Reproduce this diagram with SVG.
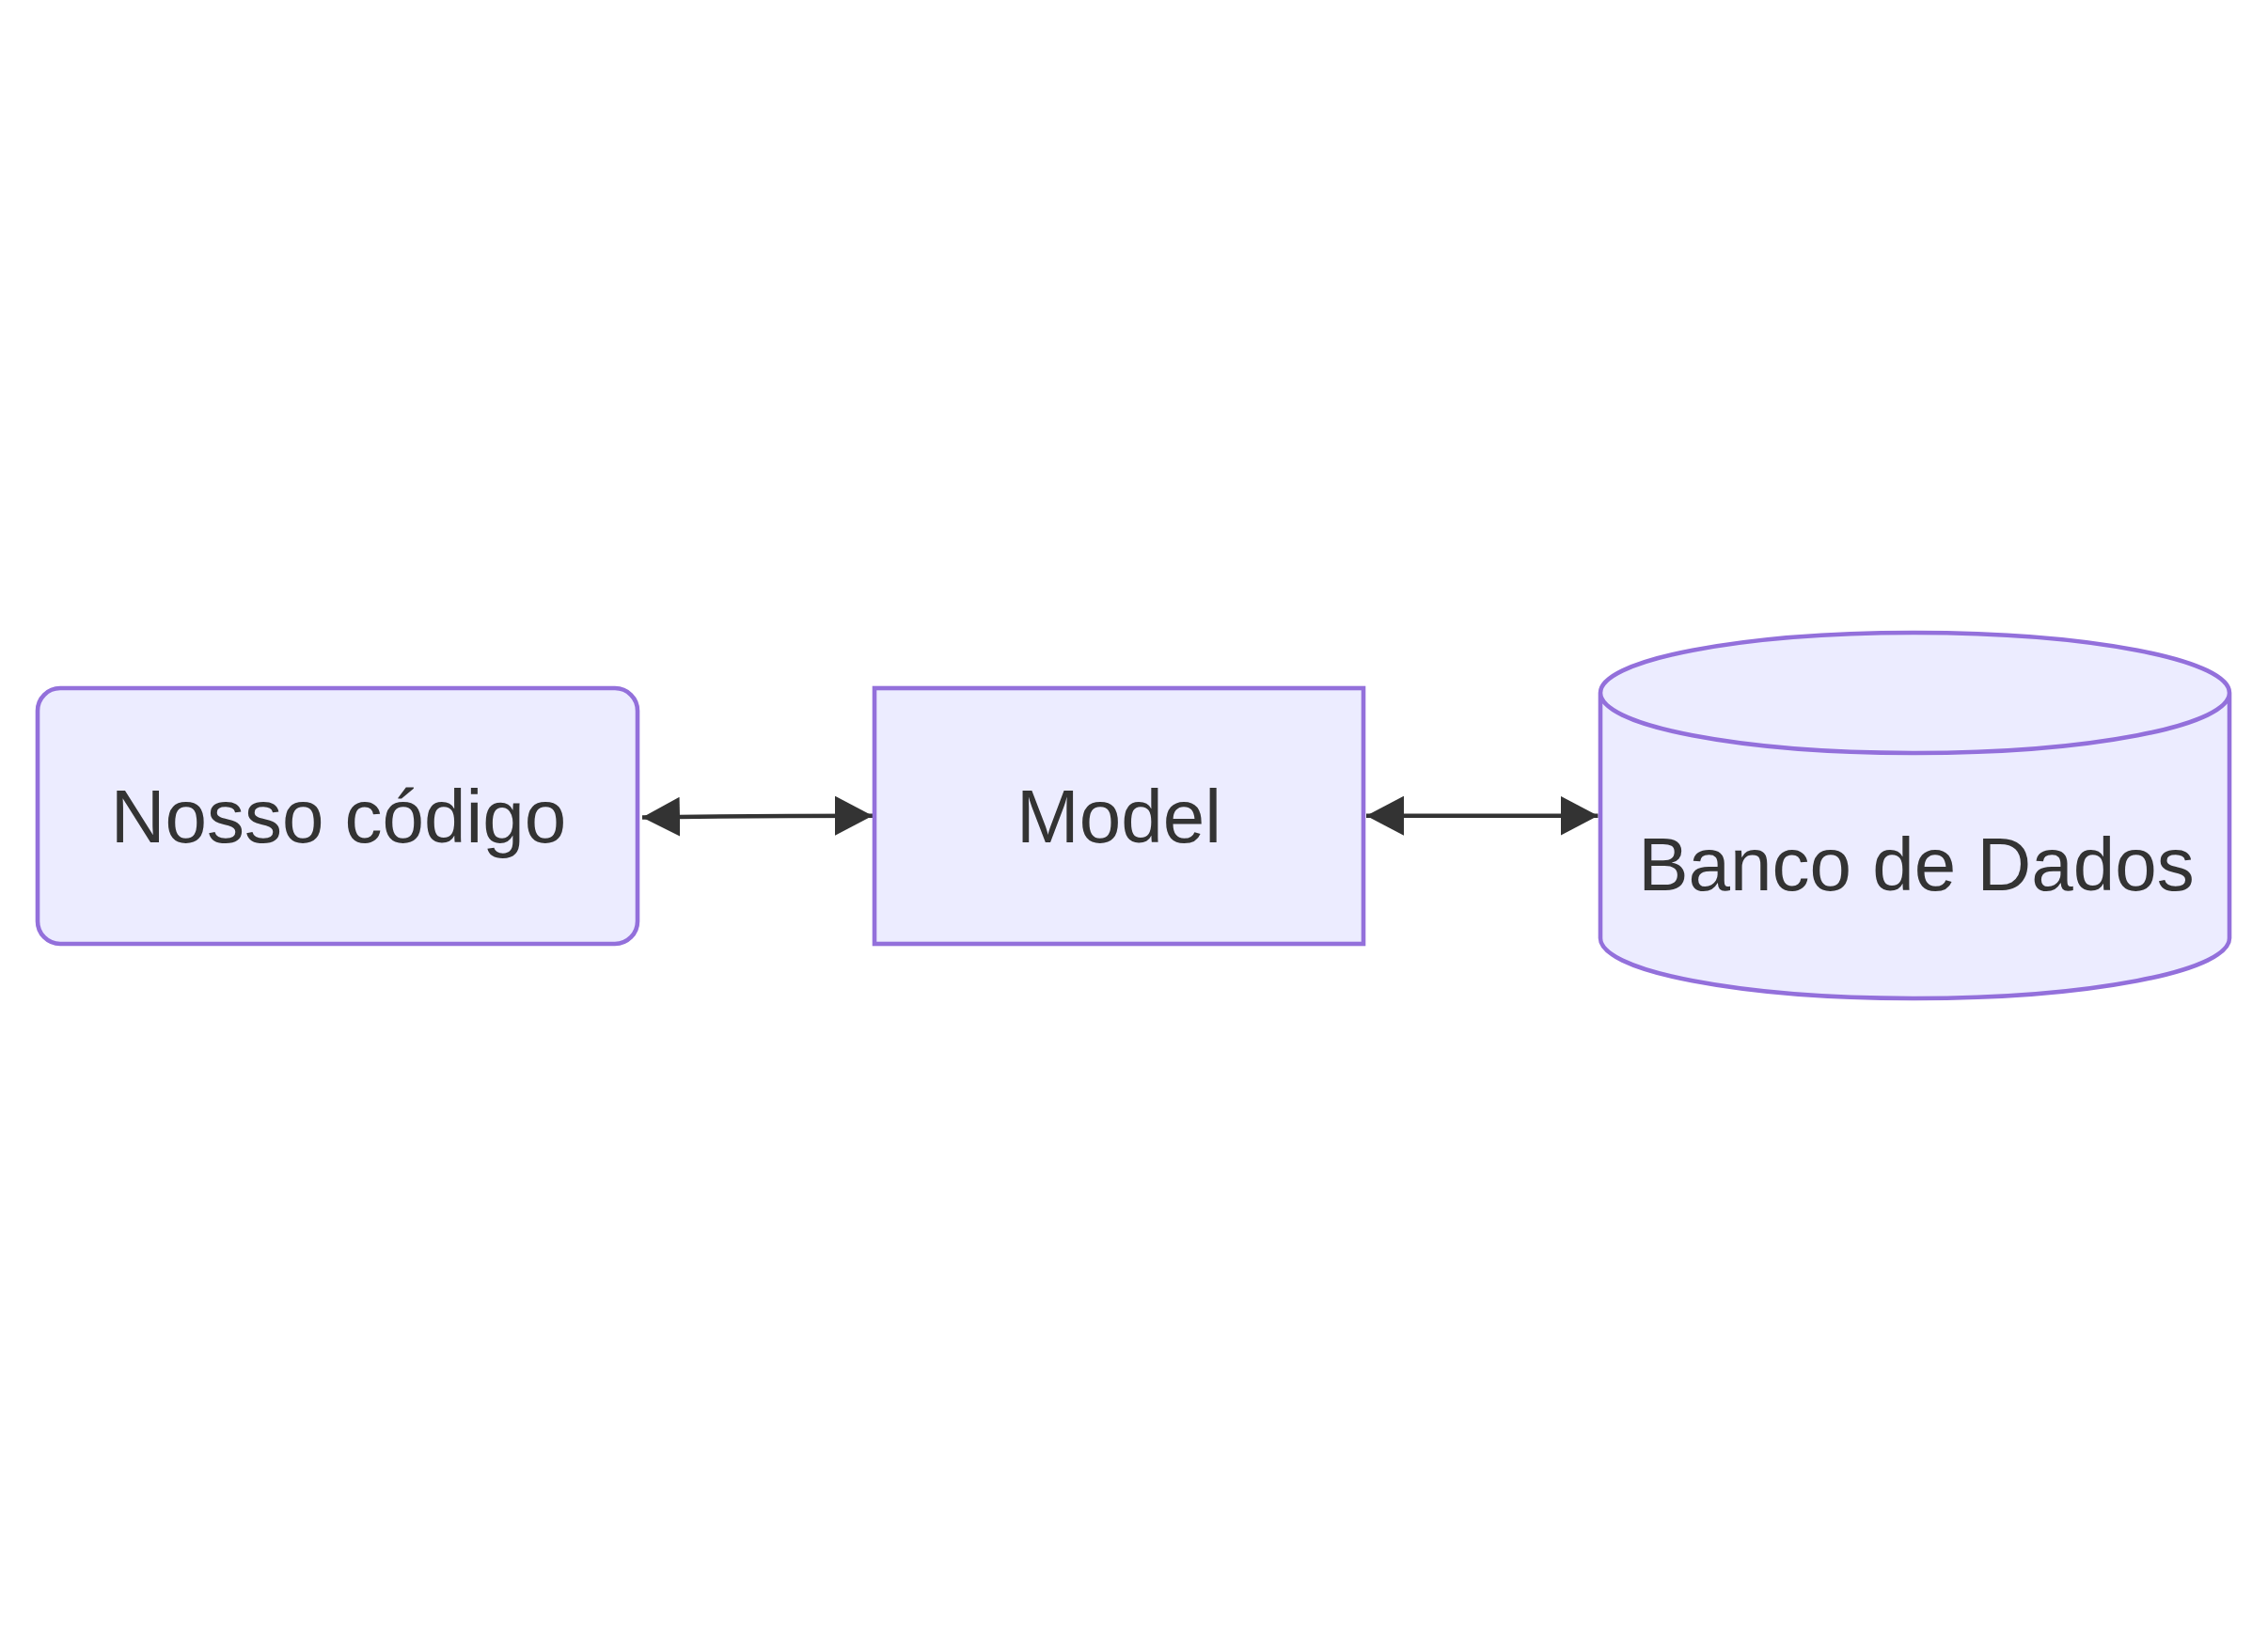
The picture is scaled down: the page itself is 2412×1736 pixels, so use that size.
<svg xmlns="http://www.w3.org/2000/svg" width="2412" height="1736" viewBox="0 0 2412 1736">
<style>
.node{fill:#ECECFF;stroke:#9370DB;stroke-width:4.6}
.label{font-family:"Liberation Sans",Arial,sans-serif;font-size:80px;fill:#333333;text-anchor:middle}
.edge{fill:none;stroke:#333333;stroke-width:4.5}
</style>
<defs>
<marker id="arrow" markerUnits="userSpaceOnUse" markerWidth="40" markerHeight="42" viewBox="0 0 40 42" refX="40" refY="21" orient="auto-start-reverse">
<path d="M0,0 L40,21 L0,42 z" fill="#333333"/>
</marker>
</defs>
<rect width="2412" height="1736" fill="#ffffff"/>
<g id="connectors">
<path class="edge" d="M683,869.6 C760,868 820,867.7 928,867.7" marker-start="url(#arrow)" marker-end="url(#arrow)"/>
<path class="edge" d="M1453,867.7 L1699.5,867.7" marker-start="url(#arrow)" marker-end="url(#arrow)"/>
</g>
<g id="node-nosso">
<rect class="node" x="40" y="732" width="638" height="272" rx="24" ry="24"/>
<text class="label" x="360" y="896">Nosso código</text>
</g>
<g id="node-model">
<rect class="node" x="930" y="732" width="520" height="272"/>
<text class="label" x="1190" y="896">Model</text>
</g>
<g id="node-banco">
<path class="node" d="M1702,737 a334.5,64 0 0 0 669,0 a334.5,64 0 0 0 -669,0 l0,261 a334.5,64 0 0 0 669,0 l0,-261"/>
<text class="label" x="2038" y="947">Banco de Dados</text>
</g>
</svg>
